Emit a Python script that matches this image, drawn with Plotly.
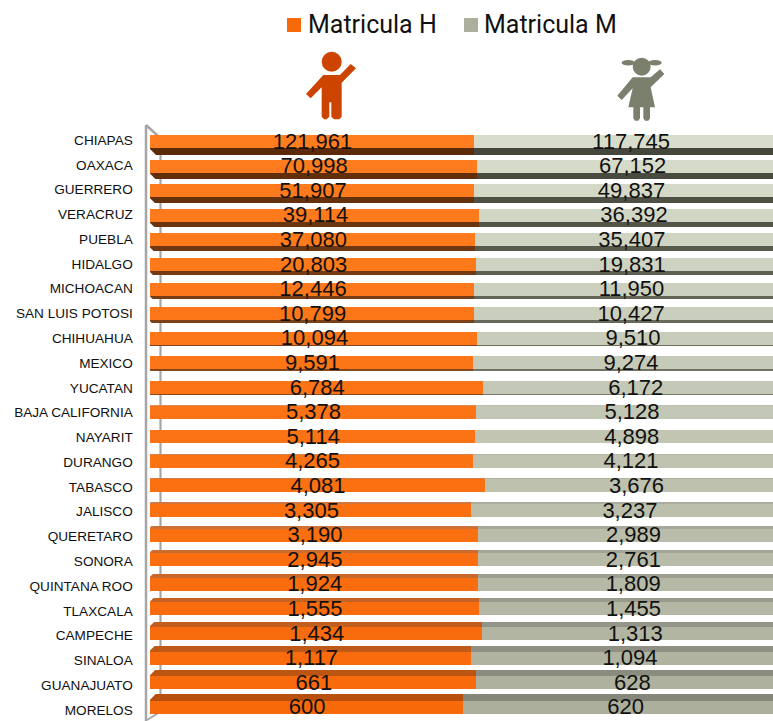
import plotly.graph_objects as go

categories = ["CHIAPAS","OAXACA","GUERRERO","VERACRUZ","PUEBLA","HIDALGO","MICHOACAN","SAN LUIS POTOSI","CHIHUAHUA","MEXICO","YUCATAN","BAJA CALIFORNIA","NAYARIT","DURANGO","TABASCO","JALISCO","QUERETARO","SONORA","QUINTANA ROO","TLAXCALA","CAMPECHE","SINALOA","GUANAJUATO","MORELOS"]
matricula_h = [121961,70998,51907,39114,37080,20803,12446,10799,10094,9591,6784,5378,5114,4265,4081,3305,3190,2945,1924,1555,1434,1117,661,600]
matricula_m = [117745,67152,49837,36392,35407,19831,11950,10427,9510,9274,6172,5128,4898,4121,3676,3237,2989,2761,1809,1455,1313,1094,628,620]

W, H = 773, 721
X0, FULL = 149.5, 637.0     # px of 0 %, px per 100 %
PITCH, Y0 = 24.6, 141.5     # row pitch, centre of first face
FACE = 13.0
LAB_PITCH, LAB_Y0 = 24.78, 140.0
n = len(categories)

def px(x): return x / W
def py(y): return 1 - y / H
def path(pts):
    return "M" + "L".join(f"{px(a):.5f},{py(b):.5f}" for a, b in pts) + "Z"
def hexrgb(h): return tuple(int(h[i:i+2], 16) for i in (1, 3, 5))
def mix(a, b, t):
    a, b = hexrgb(a), hexrgb(b)
    return "#" + "".join(f"{round(a[k]+(b[k]-a[k])*t):02x}" for k in range(3))

t = [i / (n - 1) for i in range(n)]
face_h = [mix("#ff7d1f", "#f8690a", v) for v in t]
face_m = [mix("#d8ddcb", "#abaf9c", v) for v in t]
def side(i, a, b, c, d):
    return mix(a, b, i / 10) if i <= 10 else mix(c, d, (i - 11) / 12)
side_h = [side(i, "#5c2a08", "#8a4a1e", "#dd8a55", "#b94f0c") for i in range(n)]
side_m = [side(i, "#45463c", "#777868", "#bfc0b2", "#85877a") for i in range(n)]

# depth of the 3-D side of every bar (below the face at the top, above it at the bottom)
depth = [7.0 * (10.5 - i) / 10.5 if i <= 10 else max(0.0, 7.0 * (i - 12) / 11) for i in range(n)]
half = FACE / 2 / PITCH
side_w = [d / PITCH for d in depth]
side_off = [half if i <= 10 else -half - side_w[i] for i in range(n)]

rows = list(range(n))
frac_h = [100 * h / (h + m) for h, m in zip(matricula_h, matricula_m)]
frac_m = [100 - f for f in frac_h]
TEXT_DX = 100 * 1.0 / FULL   # one pixel to the right
x_h = [f / 2 + TEXT_DX for f in frac_h]
x_m = [f + g / 2 + TEXT_DX for f, g in zip(frac_h, frac_m)]
text_y = [r + 1.5 / PITCH for r in rows]

fig = go.Figure()
fig.add_bar(y=rows, x=matricula_h, orientation="h", width=side_w, offset=side_off,
            marker=dict(color=side_h, line_width=0), showlegend=False, hoverinfo="skip", yaxis="y")
fig.add_bar(y=rows, x=matricula_m, orientation="h", width=side_w, offset=side_off,
            marker=dict(color=side_m, line_width=0), showlegend=False, hoverinfo="skip", yaxis="y")
fig.add_bar(y=rows, x=matricula_h, orientation="h", name="Matricula H", width=FACE / PITCH,
            marker=dict(color=face_h, line_width=0), showlegend=False, yaxis="y3")
fig.add_bar(y=rows, x=matricula_m, orientation="h", name="Matricula M", width=FACE / PITCH,
            marker=dict(color=face_m, line_width=0), showlegend=False, yaxis="y3")
txt = dict(mode="text", showlegend=False, hoverinfo="skip", yaxis="y3", cliponaxis=False,
           textfont=dict(family="Liberation Sans", size=22, color="#111111"), textposition="middle center")
fig.add_scatter(x=x_h, y=text_y, text=[f"{v:,}" for v in matricula_h], **txt)
fig.add_scatter(x=x_m, y=text_y, text=[f"{v:,}" for v in matricula_m], **txt)
fig.add_scatter(x=[0], y=[0], mode="markers", marker=dict(opacity=0), showlegend=False, hoverinfo="skip", yaxis="y2")

shapes = []
wall = "#a6a6a6"
for pts, w in [([(146, 125), (146, 721)], 2.5), ([(146, 125), (158, 136)], 2.5), ([(147, 720), (160, 712)], 2),
               ([(160.5, 135), (160.5, 712)], 2.2)]:
    shapes.append(dict(type="line", xref="paper", yref="paper", layer="below",
                       x0=px(pts[0][0]), y0=py(pts[0][1]), x1=px(pts[1][0]), y1=py(pts[1][1]),
                       line=dict(color=wall, width=w)))
# bevel at the left end of each 3-D side
for i, d in enumerate(depth):
    if d < 1:
        continue
    c = Y0 + PITCH * i
    e = c + FACE / 2 if i <= 10 else c - FACE / 2
    f = e + d if i <= 10 else e - d
    shapes.append(dict(type="path", xref="paper", yref="paper", line_width=0, fillcolor="white",
                       path=path([(X0 - 0.5, e), (X0 - 0.5, f + (0.5 if i <= 10 else -0.5)), (X0 + d, f + (0.5 if i <= 10 else -0.5))])))
# legend squares
for a, col in [(287, "#f8690a"), (464, "#abaf9c")]:
    shapes.append(dict(type="rect", xref="paper", yref="paper", line_width=0, fillcolor=col,
                       x0=px(a), x1=px(a + 14), y0=py(18), y1=py(32)))

def zoom2(p): return [(260 + a / 3, b / 3) for a, b in p]
def circle(cx, cy, rx, ry, col):
    return dict(type="circle", xref="paper", yref="paper", line_width=0, fillcolor=col,
                x0=px(cx - rx), x1=px(cx + rx), y0=py(cy - ry), y1=py(cy + ry))
boy = "#cc4400"
girl = "#7a7f6e"
shapes.append(circle(331.7, 61.7, 10, 10, boy))
shapes.append(dict(type="path", xref="paper", yref="paper", line_width=0, fillcolor=boy, path=path(zoom2([
    (190,225),(240,225),(272,192),(288,205),(245,248),(245,350),(238,358),(222,358),(214,350),(214,307),
    (208,307),(208,350),(200,358),(192,358),(185,350),(185,262),(152,295),(138,282)]))))
shapes.append(circle(641.7, 66.7, 9, 9, girl))
shapes.append(circle(628.3, 62.7, 6.7, 2.8, girl))
shapes.append(circle(655, 62.7, 6.7, 2.8, girl))
shapes.append(dict(type="path", xref="paper", yref="paper", line_width=0, fillcolor=girl, path=path(zoom2([
    (1118,232),(1172,232),(1200,208),(1213,222),(1172,262),(1185,322),(1170,322),(1170,355),(1165,362),(1155,362),
    (1150,355),(1150,322),(1140,322),(1140,355),(1135,362),(1125,362),(1120,355),(1120,322),(1105,322),(1118,265),
    (1085,300),(1072,287)]))))

leg_font = dict(family="Roboto", size=25, color="#111111")
annotations = [
    dict(text="Matricula H", x=px(305.5), y=py(25), xref="paper", yref="paper", xanchor="left", yanchor="middle", showarrow=False, font=leg_font),
    dict(text="Matricula M", x=px(482), y=py(25), xref="paper", yref="paper", xanchor="left", yanchor="middle", showarrow=False, font=leg_font),
]

fig.update_layout(
    width=W, height=H, autosize=False, margin=dict(l=0, r=0, t=0, b=0),
    paper_bgcolor="white", plot_bgcolor="rgba(0,0,0,0)",
    barmode="stack", barnorm="percent", shapes=shapes, annotations=annotations, showlegend=False,
    xaxis=dict(domain=[px(X0), 1], range=[0, 100 * (W - X0) / FULL], visible=False),
    yaxis=dict(domain=[0, 1], range=[(H - Y0) / PITCH, -Y0 / PITCH], visible=False),
    yaxis3=dict(domain=[0, 1], range=[(H - Y0) / PITCH, -Y0 / PITCH], visible=False, overlaying="y"),
    yaxis2=dict(domain=[0, 1], overlaying="y", range=[(H - LAB_Y0) / LAB_PITCH, -LAB_Y0 / LAB_PITCH],
                tickmode="array", tickvals=rows, ticktext=categories, showgrid=False, zeroline=False, showline=False,
                ticks="outside", ticklen=13, tickcolor="rgba(0,0,0,0)",
                tickfont=dict(family="Liberation Sans", size=13.6, color="#111111")),
)
fig.write_html("out.html", post_script="document.body.style.margin='0';document.body.style.overflow='hidden';",
               config={"displayModeBar": False})
